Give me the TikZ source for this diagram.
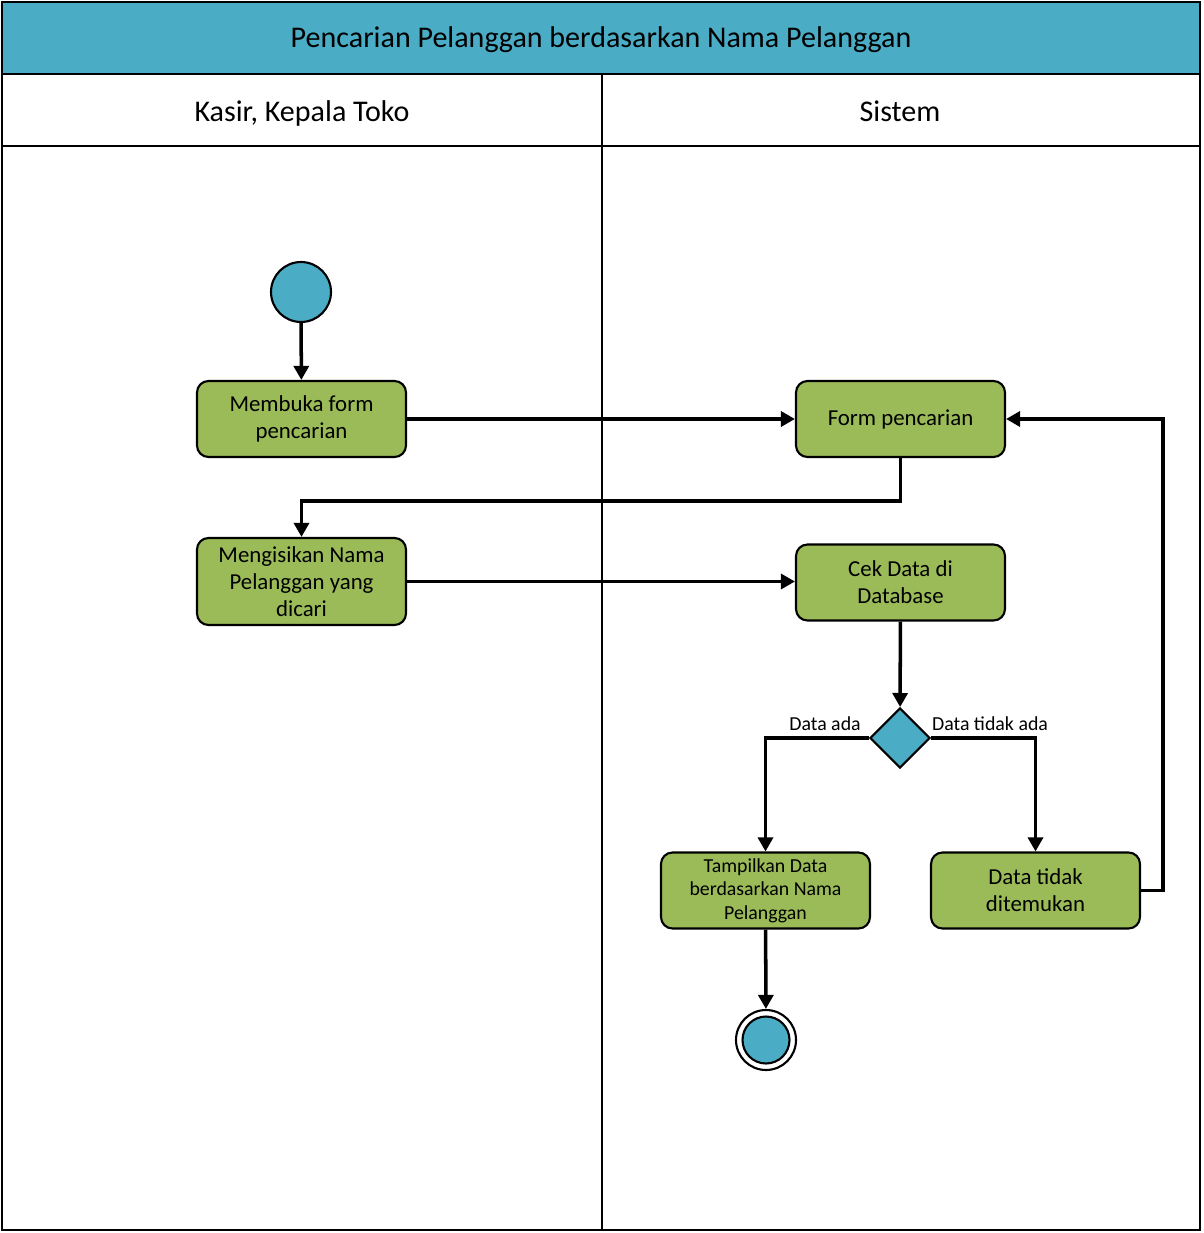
\documentclass[tikz,border=0pt]{standalone}
\usepackage{fontspec}
\setmainfont{Carlito}
\usetikzlibrary{arrows.meta,shapes.geometric}
\definecolor{lanebiru}{HTML}{4BACC6}
\definecolor{aksihijau}{HTML}{9BBB59}

\tikzset{
  aksi/.style={draw, line width=1.2pt, rounded corners=6.5pt, fill=aksihijau,
    minimum width=4.18cm, minimum height=1.52cm, align=center, inner sep=1pt,
    font=\fontsize{13}{15.5}\selectfont},
  aksikecil/.style={aksi, font=\fontsize{11.3}{13.3}\selectfont},
  awal/.style={draw, circle, line width=1.2pt, fill=lanebiru, minimum size=1.2cm, inner sep=0pt},
  akhir/.style={draw, circle, line width=1.2pt, fill=white, minimum size=1.2cm, inner sep=0pt},
  cabang/.style={draw, diamond, aspect=1, line width=1.2pt, fill=lanebiru, minimum size=1.2cm, inner sep=0pt},
  alur/.style={line width=2pt, -{Triangle[length=8pt,width=8.5pt]}},
  judul/.style={font=\fontsize{17.1}{20}\selectfont, anchor=base},
  ket/.style={font=\fontsize{11.3}{13}\selectfont, inner sep=1pt}
}

\begin{document}
\begin{tikzpicture}[x=0.02cm,y=-0.02cm]
\useasboundingbox (0,0) rectangle (1203,1233);

% swimlane
\fill[lanebiru] (2,2) rectangle (1200,74);
\draw[line width=1.6pt] (2,2) rectangle (1200,1230);
\draw[line width=1.5pt] (2,74) -- (1200,74);
\draw[line width=1.2pt] (2,146) -- (1200,146);
\draw[line width=1.5pt] (602,74) -- (602,1230);
\node[judul] (title) at (601,47.5) {Pencarian Pelanggan berdasarkan Nama Pelanggan};
\node[judul] (lane1) at (302,121.5) {Kasir, Kepala Toko};
\node[judul] (lane2) at (900,121.5) {Sistem};

% aktivitas
\node[awal] (start) at (301,292) {};
\node[aksi] (buka) at (301.5,419) {Membuka form\\pencarian};
\node[aksi] (form) at (900.5,419) {Form pencarian};
\node[aksi, minimum height=1.74cm] (isi) at (301.5,581.5) {Mengisikan Nama\\Pelanggan yang\\dicari};
\node[aksi] (cek) at (900.5,582.5) {Cek Data di\\Database};
\node[cabang] (pilih) at (900,738) {};
\node[aksikecil] (tampil) at (765.5,890.5) {Tampilkan Data\\berdasarkan Nama\\Pelanggan};
\node[aksi] (tidak) at (1035.5,890.5) {Data tidak\\ditemukan};
\node[akhir] (stop) at (766,1040) {};
\node[awal, minimum size=0.94cm] (stopdalam) at (stop) {};

\node[ket, anchor=south] (ya) at (825,733) {Data ada};
\node[ket, anchor=south] (tdk) at (990,733) {Data tidak ada};

% alur
\draw[alur] (start) -- (buka);
\draw[alur] (buka.east) -- (form.west);
\draw[alur] (form.south) -- ++(0,43) -| (isi.north);
\draw[alur] (isi.east) -- (isi.east -| cek.west);
\draw[alur] (cek) -- (pilih);
\draw[alur] (pilih.west) -| (tampil.north);
\draw[alur] (pilih.east) -| (tidak.north);
\draw[alur] (tidak.east) -- ++(22,0) |- (form.east);
\draw[alur] (tampil) -- (stop);
\end{tikzpicture}
\end{document}
